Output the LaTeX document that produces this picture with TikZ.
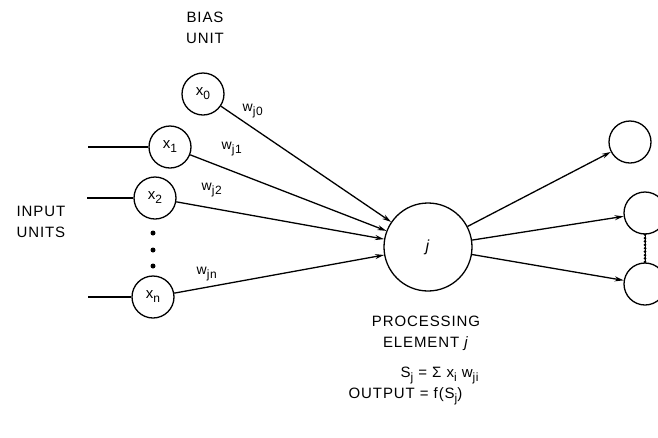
\documentclass[tikz,border=0pt]{standalone}
\usepackage{fontspec}
\setmainfont{Liberation Sans}[LetterSpace=6]
\usetikzlibrary{arrows.meta}
\newcommand\lowsub[1]{\raisebox{-4pt}{\fontsize{12}{12}\selectfont #1}}
\begin{document}
\begin{tikzpicture}[x=1pt,y=-1pt,line width=1.3pt,
  unit/.style={draw,circle,minimum size=42pt,inner sep=0pt,font=\fontsize{15}{16}\selectfont},
  bigunit/.style={draw,circle,minimum size=88pt,inner sep=0pt,font=\fontsize{16}{17}\selectfont},
  lbl/.style={font=\fontsize{15}{21}\selectfont,inner sep=0pt},
  wlbl/.style={font=\fontsize{14}{15}\selectfont,inner sep=0pt},
  arr/.style={-{Stealth[length=9pt,width=5pt]}},
  dotmark/.style={circle,fill,inner sep=0pt,minimum size=5pt}]
\useasboundingbox (0,0) rectangle (658,437);
\fill[white] (0,0) rectangle (658,437);

% input / bias units
\node[unit] (x0) at (203,94) {x\lowsub{0}};
\node[unit] (x1) at (170,147) {x\lowsub{1}};
\node[unit] (x2) at (155,198) {x\lowsub{2}};
\node[unit] (xn) at (153,297) {x\lowsub{n}};

% processing element and outputs
\node[bigunit] (j) at (428,247) {\textit{j}};
\node[unit] (o1) at (630,142) {};
\node[unit] (o2) at (645,213) {};
\node[unit] (o3) at (645,284) {};

% vertical dots
\node[dotmark] (d1) at (153,233) {};
\node[dotmark] (d2) at (153,250) {};
\node[dotmark] (d3) at (153,266) {};

% input lines
\coordinate (i1) at (88,147);
\coordinate (i2) at (87,198);
\coordinate (in) at (88,297);
\draw (i1) -- (x1);
\draw (i2) -- (x2);
\draw (in) -- (xn);

% weighted connections
\draw[arr] (x0) -- (j);
\draw[arr] (x1) -- (j);
\draw[arr] (x2) -- (j);
\draw[arr] (xn) -- (j);

% outputs
\draw[arr] (j) -- (o1);
\draw[arr] (j) -- (o2);
\draw[arr] (j) -- (o3);
\draw[line width=1pt] (o2) -- (o3);
\draw[line width=3pt,dash pattern=on 0pt off 3.4pt,line cap=round] (o2.south) -- (o3.north);

% weight labels
\node[wlbl,anchor=west] (w0) at (242,111) {w\lowsub{j0}};
\node[wlbl,anchor=west] (w1) at (221,149) {w\lowsub{j1}};
\node[wlbl,anchor=west] (w2) at (201,190) {w\lowsub{j2}};
\node[wlbl,anchor=west] (wn) at (196,274) {w\lowsub{jn}};

% text labels
\node[lbl,align=center] (bias) at (205,28) {BIAS\\UNIT};
\node[lbl,align=left,anchor=west] (input) at (16,222) {INPUT\\UNITS};
\node[lbl,align=center] (pe) at (426,333) {PROCESSING\\ELEMENT \textit{j}};
\node[lbl,anchor=west] (sum) at (400,375) {S\lowsub{j} = Σ x\lowsub{i} w\lowsub{ji}};
\node[lbl,anchor=west] (out) at (348,396) {OUTPUT = f(S\lowsub{j})};
\end{tikzpicture}
\end{document}
